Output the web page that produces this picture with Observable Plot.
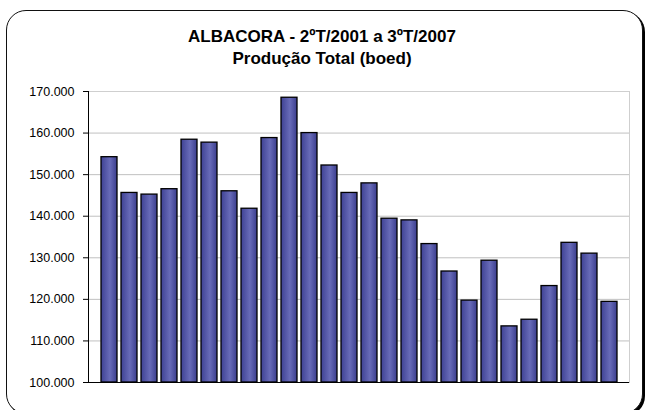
<!DOCTYPE html>
<html>
<head>
<meta charset="utf-8">
<script src="https://cdn.jsdelivr.net/npm/d3@7"></script>
<script src="https://cdn.jsdelivr.net/npm/@observablehq/plot@0.6"></script>
<style>
  body { margin: 0; background: #fff; font-family: Arial, "Liberation Sans", sans-serif; }
  #wrap { position: relative; width: 645px; height: 410px; overflow: hidden; background: #fff; }
  #border { position: absolute; left: 6px; top: 10px; width: 635px; height: 402px;
            border: 1.5px solid #111; border-radius: 20px; box-shadow: 2px 2px 0 #000; background: #fff; }
  #title { position: absolute; left: 0; top: 26px; width: 644px; text-align: center;
           font-family: Arial, "Liberation Sans", sans-serif;
           font-weight: bold; font-size: 17px; line-height: 22px; color: #000; }
  #chart { position: absolute; left: 0; top: 0; }
</style>
</head>
<body>
<div id="wrap">
  <div id="border"></div>
  <div id="chart"></div>
  <div id="title">ALBACORA - 2ºT/2001 a 3ºT/2007<br>Produção Total (boed)</div>
</div>
<script>
const quarters = ["2T01","3T01","4T01","1T02","2T02","3T02","4T02","1T03","2T03","3T03","4T03","1T04","2T04","3T04","4T04","1T05","2T05","3T05","4T05","1T06","2T06","3T06","4T06","1T07","2T07","3T07"];
const production = [154200,145600,145200,146500,158400,157700,146000,141800,158800,168500,160000,152200,145600,147900,139400,139000,133300,126700,119700,129300,113500,115100,123200,133600,131000,119400];
const yTicks = [100000,110000,120000,130000,140000,150000,160000,170000];

const data = quarters.map((q, i) => ({q, v: production[i]}));
const fmt = d => d3.format(",d")(d).replace(/,/g, ".");

const plot = Plot.plot({
  width: 645,
  height: 410,
  marginLeft: 88,
  marginRight: 16,
  marginTop: 91,
  marginBottom: 28,
  style: {background: "transparent", fontFamily: "Arial, 'Liberation Sans', sans-serif", fontSize: "12.5px", color: "#000"},
  x: {domain: quarters, padding: 0.2, axis: null},
  y: {domain: [100000, 170000], ticks: yTicks, tickFormat: fmt, tickSize: 5, tickPadding: 9, label: null},
  marks: [
    Plot.gridY(yTicks, {stroke: "#c0c0c0", strokeOpacity: 1}),
    Plot.frame({stroke: "#cfcfcf"}),
    Plot.barY(data, {x: "q", y1: 100000, y2: "v", fill: "url(#barGrad)", stroke: "#000", strokeWidth: 1.3}),
    Plot.ruleY([100000], {stroke: "#000"}),
    Plot.frame({anchor: "left", stroke: "#000"})
  ]
});

const defs = d3.select(plot).insert("defs", ":first-child");
const g = defs.append("linearGradient").attr("id", "barGrad").attr("x1", "0").attr("x2", "1").attr("y1", "0").attr("y2", "0");
g.append("stop").attr("offset", "0").attr("stop-color", "#3e4193");
g.append("stop").attr("offset", "0.55").attr("stop-color", "#686bb8");
g.append("stop").attr("offset", "1").attr("stop-color", "#3b3d8e");

document.getElementById("chart").appendChild(plot);
</script>
</body>
</html>
